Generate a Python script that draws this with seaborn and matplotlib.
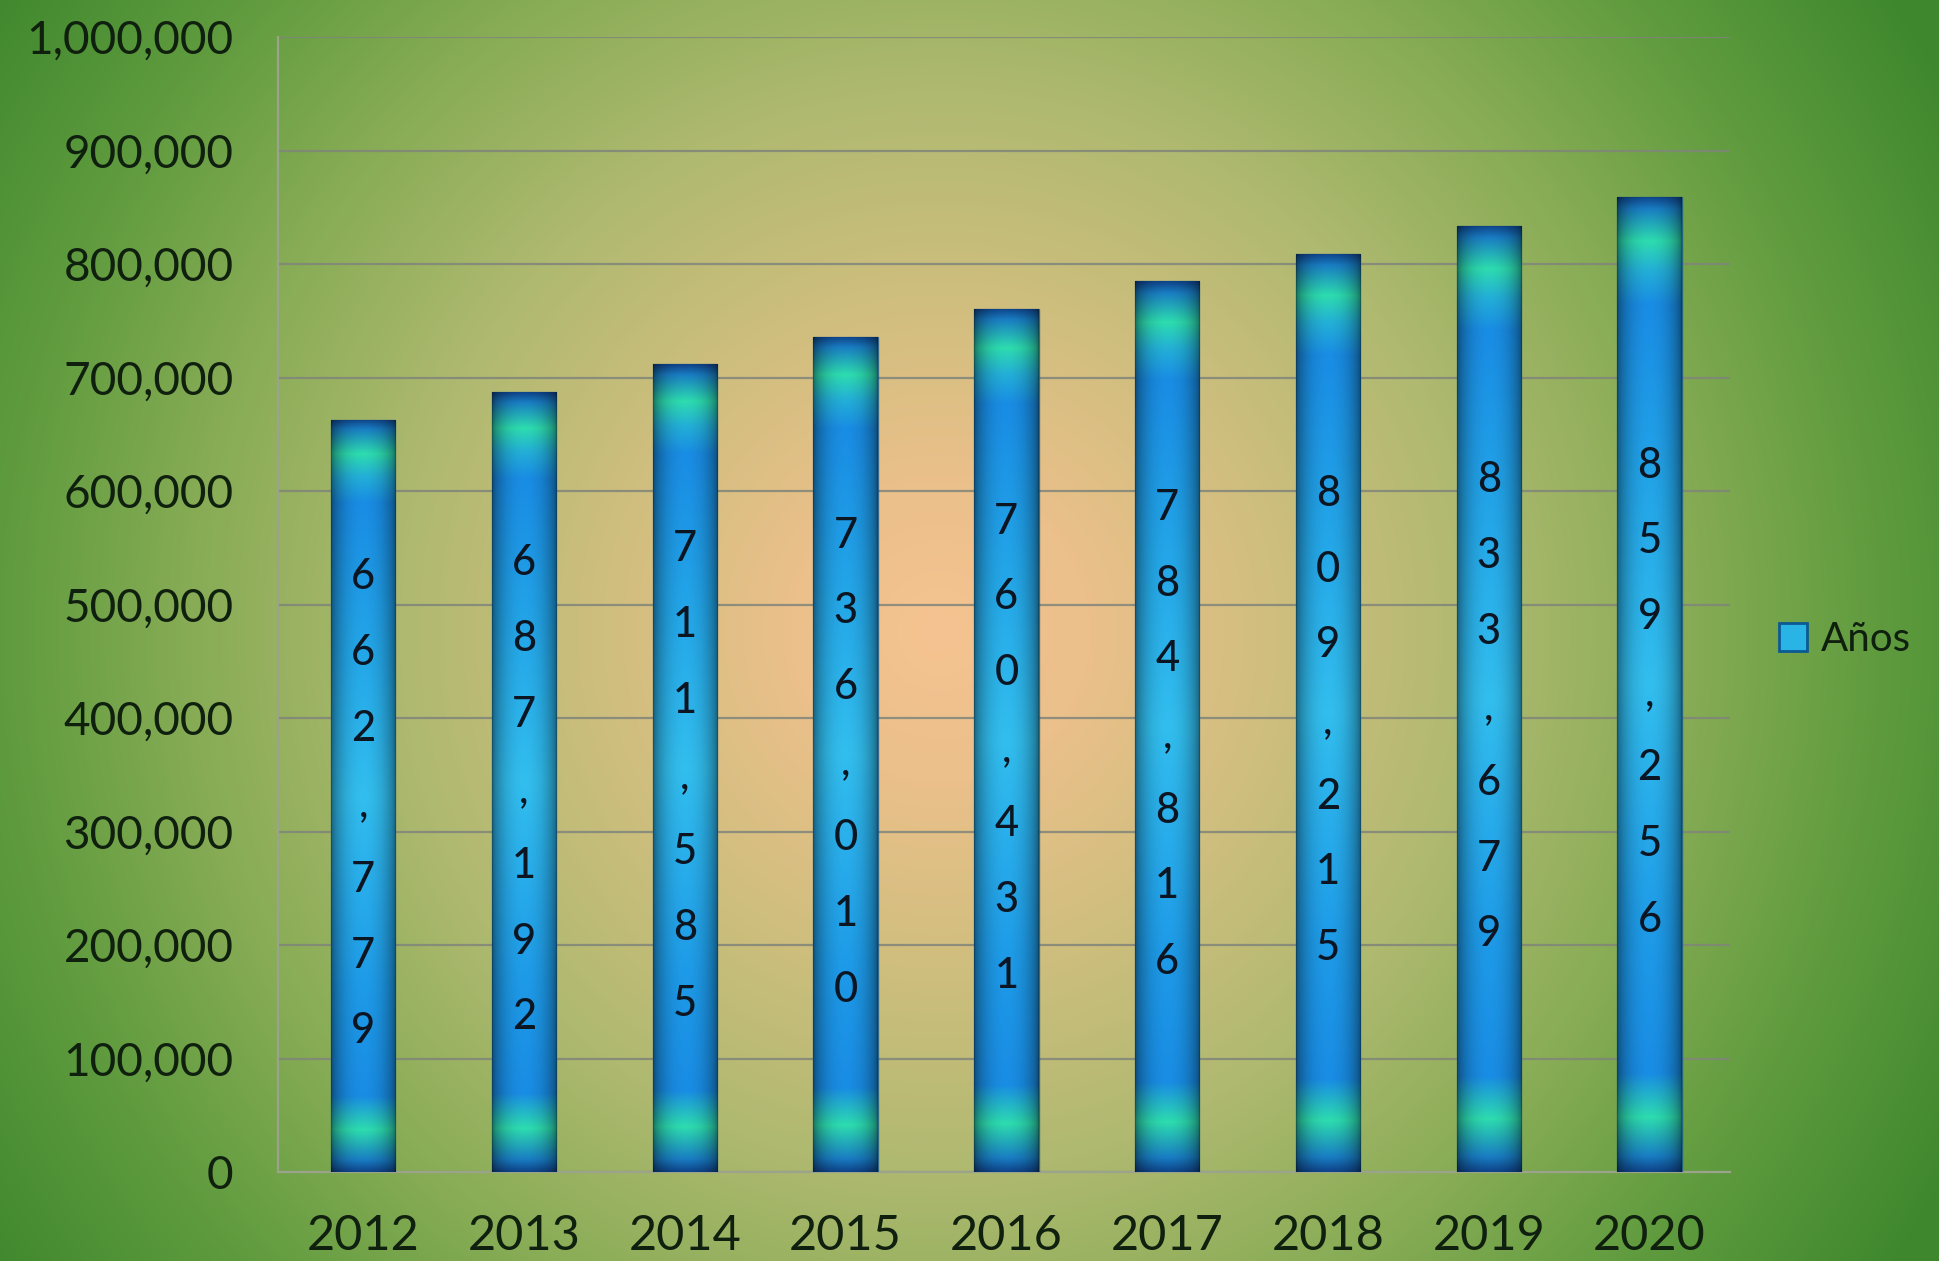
import numpy as np
import pandas as pd
import matplotlib
matplotlib.use("Agg")
import matplotlib.pyplot as plt
import seaborn as sns
from matplotlib.patches import Rectangle

# ---- data ----
years = ["2012", "2013", "2014", "2015", "2016", "2017", "2018", "2019", "2020"]
values = [662779, 687192, 711585, 736010, 760431, 784816, 809215, 833679, 859256]
yticks = [0, 100000, 200000, 300000, 400000, 500000, 600000, 700000, 800000, 900000, 1000000]
series_name = "Años"

sns.set_theme(style="white")
plt.rcParams["font.family"] = ["Lato", "DejaVu Sans"]

W, H = 1940, 1261
fig = plt.figure(figsize=(W / 100, H / 100), dpi=100)

# ---- radial background ----
bg = fig.add_axes([0, 0, 1, 1], zorder=0)
yy, xx = np.mgrid[0:H, 0:W]
d = np.hypot(xx - 940, (yy - 631) * 1.0)
stops_d = [0, 150, 350, 540, 750, 940, 1150]
stops_c = np.array([(245, 195, 145), (235, 192, 138), (205, 190, 125), (175, 185, 112),
                    (135, 172, 85), (95, 155, 62), (62, 135, 45)]) / 255.0
img = np.dstack([np.interp(d, stops_d, stops_c[:, k]) for k in range(3)])
bg.imshow(img, aspect="auto", extent=[0, 1, 0, 1], origin="upper")
bg.set_axis_off()

# ---- main axes ----
ax = fig.add_axes([278 / W, 1 - 1172 / H, (1730 - 278) / W, (1172 - 37) / H], zorder=1)
ax.patch.set_alpha(0)
df = pd.DataFrame({"year": years, "value": values})
sns.barplot(data=df, x="year", y="value", ax=ax, width=0.4, color="#1e90d8",
            saturation=1, zorder=3, errorbar=None)

# bar gradient
nv, nh = 400, 60
t = np.linspace(0, 1, nv)
v_pos = [0.0, 0.012, 0.045, 0.075, 0.11, 0.3, 0.5, 0.75, 0.9, 0.945, 0.985, 1.0]
v_col = np.array([(15, 70, 140), (25, 125, 195), (45, 220, 175), (35, 175, 215), (25, 140, 228),
                  (35, 165, 232), (50, 190, 238), (30, 155, 232), (25, 140, 228),
                  (45, 220, 175), (25, 125, 195), (15, 70, 140)]) / 255.0
vprof = np.dstack([np.interp(t, v_pos, v_col[:, k]) for k in range(3)])[0]
u = np.linspace(0, 1, nh)
hprof = 0.45 + 0.55 * np.sin(np.pi * u) ** 0.5
grad = np.clip(vprof[:, None, :] * hprof[None, :, None], 0, 1)

for p in ax.patches:
    x0, w, h = p.get_x(), p.get_width(), p.get_height()
    im = ax.imshow(grad, extent=[x0, x0 + w, 0, h], aspect="auto", origin="upper", zorder=3.5)
    im.set_clip_path(p)
    p.set_edgecolor((0.05, 0.25, 0.45, 0.6))
    p.set_linewidth(1)

# value labels, one character per line
for i, v in enumerate(values):
    s = f"{v:,}"
    n = len(s)
    for k, ch in enumerate(s):
        off = ((n - 1) / 2 - k) * 54.5 - 6
        ax.annotate(ch, xy=(i, v / 2), xytext=(0, off), textcoords="offset points",
                    ha="center", va="center", fontsize=30, color="#0c1622",
                    fontweight="medium", zorder=5)

ax.set_xlim(-0.53, 8.47)
ax.set_ylim(0, 1000000)
ax.set_yticks(yticks)
ax.set_yticklabels([f"{v:,}" for v in yticks])
ax.yaxis.grid(True, color="#80857a", lw=1.6, alpha=0.85, zorder=1)
ax.set_axisbelow(True)
ax.set_xlabel("")
ax.set_ylabel("")
for s in ["top", "right"]:
    ax.spines[s].set_visible(False)
for s in ["left", "bottom"]:
    ax.spines[s].set_color("#9ba38c")
    ax.spines[s].set_linewidth(1.6)

ax.tick_params(axis="y", which="major", length=7, width=1.4, color="#9ba38c",
               pad=25, labelsize=33, labelcolor="#10200f")
ax.tick_params(axis="x", which="major", length=0, pad=30, labelsize=35, labelcolor="#10200f")
ax.set_xticks(np.arange(-0.5, 9.0, 1.0), minor=True)
ax.tick_params(axis="x", which="minor", length=10, width=1.4, color="#9ba38c")

# legend
handle = Rectangle((0, 0), 1, 1, facecolor="#2ab4e6", edgecolor="#0b5a92", linewidth=2)
fig.legend([handle], [series_name], loc="center left", bbox_to_anchor=(0.917, 0.4925),
           frameon=False, fontsize=29, handlelength=0.7, handleheight=0.7,
           handletextpad=0.35, borderpad=0, borderaxespad=0, labelcolor="#10200f")

fig.savefig("out.png", dpi=100)
